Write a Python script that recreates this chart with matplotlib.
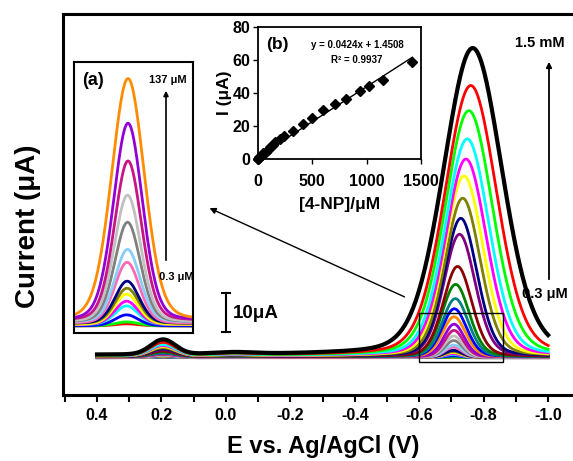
import numpy as np
import matplotlib
matplotlib.use("Agg")
import matplotlib.pyplot as plt
from matplotlib.patches import Rectangle

plt.rcParams['font.family'] = ['Liberation Sans', 'DejaVu Sans']

W, H = 573, 461

# ---- main voltammograms (largest first) ----
colors = ['black', 'red', 'lime', 'cyan', 'magenta', 'yellow', 'olive', 'navy',
          'purple', 'darkred', 'green', 'teal', 'blue', 'darkorange',
          'darkviolet', 'mediumvioletred', 'silver', 'gray', 'lightskyblue',
          'hotpink', 'navy', 'olive', 'yellow', 'magenta', 'cyan', 'blue',
          'lime', 'red']
peak_height = [78.7, 69.2, 62.8, 55.6, 50.5, 46.2, 40.5, 35.4, 31.3, 23.1, 18.5,
               14.9, 12.3, 10.3, 8.4, 6.8, 5.4, 4.25, 3.1, 2.6, 1.8, 1.5, 1.3,
               1.0, 0.8, 0.47, 0.17, 0.09]
peak_pos = [-0.766, -0.760, -0.754, -0.749, -0.745, -0.739, -0.735, -0.729,
            -0.725, -0.719, -0.713, -0.712, -0.709, -0.708, -0.708, -0.708,
            -0.707, -0.707, -0.707, -0.706, -0.706, -0.706, -0.705, -0.705,
            -0.705, -0.705, -0.705, -0.705]
peak_fwhm = [0.215, 0.19, 0.175, 0.16, 0.15, 0.14, 0.13, 0.12, 0.115, 0.105,
             0.10, 0.095, 0.09, 0.085, 0.075, 0.07, 0.068, 0.066, 0.065, 0.064,
             0.063, 0.062, 0.062, 0.061, 0.06, 0.06, 0.06, 0.06]
# small oxidation peak near +0.2 V
peak2_height = [3.8, 3.2, 3.4, 2.8, 2.6, 2.4, 2.1, 1.9, 1.7, 1.4, 1.2, 1.0, 0.9,
                0.8, 0.7, 0.65, 0.6, 0.55, 0.5, 0.45, 0.4, 0.35, 0.3, 0.3, 0.25,
                0.2, 0.2, 0.15]
base_offset = [0.0, -0.1, -0.15, -0.2, -0.25, -0.3, -0.3, -0.35, -0.35, -0.4,
               -0.4, -0.45, -0.45, -0.5, -0.5, -0.5, -0.55, -0.55, -0.55, -0.6,
               -0.6, -0.6, -0.65, -0.65, -0.65, -0.7, -0.7, -0.7]

# ---- calibration inset (b) ----
conc = [0.3, 1, 5, 10, 20, 35, 50, 70, 90, 110, 137, 160, 200, 240, 320, 410,
        500, 600, 710, 810, 940, 1020, 1150, 1420]
current = [0.1, 0.2, 0.5, 1.0, 1.5, 2.5, 3.5, 4.5, 5.5, 7.0, 8.5, 10.0, 12.0,
           14.0, 17.0, 21.5, 25.0, 29.5, 33.5, 36.5, 41.0, 44.0, 48.0, 59.0]
current_err = [0.3, 0.3, 0.4, 0.4, 0.5, 0.5, 0.6, 0.6, 0.7, 0.7, 0.8, 0.8, 0.9,
               1.0, 1.2, 1.3, 1.5, 1.6, 1.8, 1.9, 2.0, 2.2, 2.3, 2.5]
slope, intercept = 0.0424, 1.4508

E = np.linspace(0.4, -1.0, 1400)


def pv(x, x0, h, w, eta=0.2):
    d = (x - x0) / w
    return h * ((1 - eta) * np.exp(-4 * np.log(2) * d ** 2) + eta / (1 + 4 * d ** 2))


def curve(i):
    y = pv(E, peak_pos[i], peak_height[i], peak_fwhm[i])
    y += pv(E, 0.195, peak2_height[i], 0.09, eta=0.05)
    y += pv(E, -0.02, 0.12 * peak2_height[i], 0.15, eta=0.0)
    return y + base_offset[i]


def fpx(x, y):
    return x / W, 1 - y / H


fig = plt.figure(figsize=(W / 100, H / 100), dpi=100)

# main axes (right spine lies beyond the picture)
ax = fig.add_axes([63 / W, (H - 395) / H, (590 - 63) / W, (395 - 14) / H])
n = len(colors)
for i in range(n - 1, -1, -1):
    ax.plot(E, curve(i), color=colors[i], lw=3.0 if i == 0 else 2.0)
ax.set_xlim(0.5056, -1.13)
ax.set_ylim(-10.26, 87.44)
for s in ax.spines.values():
    s.set_linewidth(2.2)
ax.set_yticks([])
ax.set_xticks([0.4, 0.2, 0.0, -0.2, -0.4, -0.6, -0.8, -1.0])
ax.set_xticklabels(['0.4', '0.2', '0.0', '-0.2', '-0.4', '-0.6', '-0.8', '-1.0'])
ax.xaxis.set_minor_locator(matplotlib.ticker.MultipleLocator(0.1))
ax.tick_params(axis='x', which='both', direction='out', length=5, width=1.5,
               labelsize=11.5, pad=4)
for t in ax.get_xticklabels():
    t.set_fontweight('bold')

# zoom rectangle
ax.add_patch(Rectangle((-0.6, -1.8), -0.26, 12.6, fill=False, ec='black', lw=1.0,
                       zorder=10))

# scale bar
ax.plot([-0.0, -0.0], [5.9, 15.9], color='black', lw=1.5)
ax.plot([0.013, -0.013], [5.9, 5.9], color='black', lw=1.5)
ax.plot([0.013, -0.013], [15.9, 15.9], color='black', lw=1.5)

fig.text(*fpx(233, 313), '10μA', fontsize=13.5, fontweight='bold', va='center')
fig.text(*fpx(28, 226), 'Current (μA)', fontsize=20, fontweight='bold',
         rotation=90, ha='center', va='center')
fig.text(*fpx(323, 446), 'E vs. Ag/AgCl (V)', fontsize=17, fontweight='bold',
         ha='center', va='center')
fig.text(*fpx(515, 43), '1.5 mM', fontsize=10.5, fontweight='bold', va='center')
fig.text(*fpx(522, 294), '0.3 μM', fontsize=10.5, fontweight='bold', va='center')
ax.annotate('', xy=fpx(549, 59), xytext=fpx(549, 282), xycoords='figure fraction',
            textcoords='figure fraction',
            arrowprops=dict(arrowstyle='-|>', color='black', lw=1.3,
                            mutation_scale=8))
ax.annotate('', xy=fpx(207, 207), xytext=fpx(407, 298), xycoords='figure fraction',
            textcoords='figure fraction',
            arrowprops=dict(arrowstyle='-|>', color='black', lw=1.0,
                            mutation_scale=9))

# inset (a): low concentration peaks
axa = fig.add_axes([74 / W, (H - 333) / H, (193 - 74) / W, (333 - 62) / H])
for i in range(n - 1, 12, -1):
    axa.plot(E, curve(i) + 0.5, color=colors[i], lw=2.0)
axa.set_xlim(-0.59, -0.85)
axa.set_ylim(-0.5, 11.0)
axa.set_xticks([])
axa.set_yticks([])
for s in axa.spines.values():
    s.set_linewidth(1.5)
axa.text(0.07, 0.93, '(a)', transform=axa.transAxes, fontsize=13,
         fontweight='bold', va='center')
fig.text(*fpx(149, 80), '137 μM', fontsize=8, fontweight='bold', va='center')
fig.text(*fpx(159, 277), '0.3 μM', fontsize=8, fontweight='bold', va='center')
axa.annotate('', xy=fpx(166, 88), xytext=fpx(166, 263), xycoords='figure fraction',
             textcoords='figure fraction',
             arrowprops=dict(arrowstyle='-|>', color='black', lw=1.2,
                             mutation_scale=7))

# inset (b): calibration plot
axb = fig.add_axes([258 / W, (H - 159) / H, (421 - 258) / W, (159 - 27) / H])
xfit = np.array([0, max(conc)])
axb.plot(xfit, slope * xfit + intercept, color='black', lw=1.0)
axb.errorbar(conc, current, yerr=current_err, fmt='D', color='black', ms=5,
             elinewidth=1.0, capsize=0, clip_on=False, zorder=3)
axb.set_xlim(0, 1500)
axb.set_ylim(0, 80)
axb.set_xticks([0, 500, 1000, 1500])
axb.set_yticks([0, 20, 40, 60, 80])
axb.tick_params(direction='out', length=3.5, width=1.0, labelsize=11.5, pad=2)
axb.tick_params(axis='x', pad=7)
for t in axb.get_xticklabels() + axb.get_yticklabels():
    t.set_fontweight('bold')
for s in axb.spines.values():
    s.set_linewidth(1.3)
axb.set_xlabel('[4-NP]/μM', fontsize=12.5, fontweight='bold', labelpad=6)
axb.set_ylabel('I (μA)', fontsize=12.5, fontweight='bold', labelpad=0)
axb.text(0.05, 0.87, '(b)', transform=axb.transAxes, fontsize=12.5,
         fontweight='bold', va='center')
fig.text(*fpx(357, 45), 'y = 0.0424x + 1.4508', fontsize=7, fontweight='bold',
         ha='center', va='center')
fig.text(*fpx(357, 60), 'R² = 0.9937', fontsize=7, fontweight='bold',
         ha='center', va='center')

fig.savefig('out.png', dpi=100)
